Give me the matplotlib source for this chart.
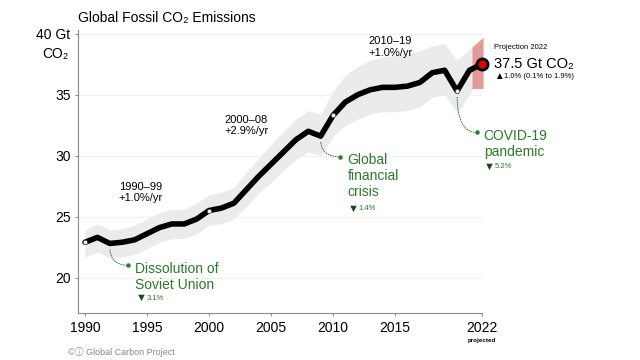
import numpy as np
import matplotlib
matplotlib.use("Agg")
import matplotlib.pyplot as plt

plt.rcParams['font.family'] = ['Liberation Sans', 'DejaVu Sans', 'Noto Sans CJK SC']

# Global fossil CO2 emissions (Gt CO2)
years = list(range(1990, 2023))
emissions = [22.9, 23.3, 22.8, 22.9, 23.1, 23.6, 24.1, 24.4, 24.4, 24.8,
             25.5, 25.7, 26.1, 27.2, 28.3, 29.3, 30.3, 31.3, 32.0, 31.6,
             33.3, 34.4, 35.0, 35.4, 35.6, 35.6, 35.7, 36.0, 36.8, 37.0,
             35.3, 37.0, 37.5]

# uncertainty band (grey), 1990-2021
band_years = list(range(1990, 2022))
band_upper = [23.9, 24.4, 23.9, 24.0, 24.3, 24.8, 25.3, 25.6, 25.6, 26.1,
              26.8, 27.0, 27.4, 28.6, 29.8, 30.9, 32.0, 33.0, 33.7, 33.4,
              35.3, 36.6, 37.3, 37.8, 38.1, 38.2, 38.3, 38.6, 39.0, 39.2,
              37.8, 38.9]
band_lower = [21.7, 22.1, 21.6, 21.7, 21.9, 22.4, 22.9, 23.2, 23.2, 23.6,
              24.3, 24.4, 24.8, 25.8, 26.9, 27.8, 28.8, 29.7, 30.3, 30.0,
              31.6, 32.5, 33.0, 33.4, 33.6, 33.6, 33.7, 34.0, 34.8, 35.0,
              33.5, 35.3]

# projection range (red)
proj_years = [2021.2, 2022.1]
proj_upper = [38.9, 39.7]
proj_lower = [35.5, 35.5]

decade_years = [1990, 2000, 2010, 2020]

xticks = [1990, 1995, 2000, 2005, 2010, 2015, 2022]
yticks = [20, 25, 30, 35, 40]
ytick_labels = ['20', '25', '30', '35', '40 Gt']

green = '#2a7a2a'

fig = plt.figure(figsize=(6.4, 3.6), dpi=100)
ax = fig.add_axes([0.1222, 0.1306, 0.6307, 0.786])

ax.fill_between(band_years[:-1] + [2021.2], band_lower, band_upper,
                color='#ebebeb', lw=0, zorder=1)
ax.fill_between(proj_years, proj_lower, proj_upper, color='#e49a9a',
                lw=0, zorder=2, clip_on=False)
ax.plot(years, emissions, color='black', lw=4, solid_capstyle='round',
        solid_joinstyle='round', zorder=3)
dec_vals = [emissions[years.index(y)] for y in decade_years]
ax.plot(decade_years, dec_vals, 'o', ms=3, mfc='white', mec='#555555',
        mew=0.6, zorder=4)
ax.plot([2022], [emissions[-1]], 'o', ms=8, mfc='#e00000', mec='black',
        mew=2, zorder=5, clip_on=False)

ax.set_xlim(1989.45, 2022)
ax.set_ylim(17.1, 40.3)
ax.set_xticks(xticks)
ax.set_xticklabels([str(x) for x in xticks], fontsize=10)
ax.set_yticks(yticks)
ax.set_yticklabels(ytick_labels, fontsize=10)
ax.tick_params(axis='both', length=2.5, width=0.6, color='#777777', pad=3)
for y in yticks:
    ax.axhline(y, color='#f0f0f0', lw=0.8, zorder=0)
for s in ['top', 'right']:
    ax.spines[s].set_visible(False)
for s in ['left', 'bottom']:
    ax.spines[s].set_color('#888888')
    ax.spines[s].set_linewidth(0.8)

ax.text(-0.025, 0.917, 'CO\u2082', transform=ax.transAxes, ha='right',
        va='center', fontsize=10)
fig.text(0.122, 0.95, 'Global Fossil CO\u2082 Emissions', ha='left',
         va='center', fontsize=10)
ax.text(2022, 14.85, 'projected', ha='center', va='center', fontsize=4.5,
        fontweight='bold', clip_on=False)
fig.text(0.106, 0.022, '\u00a9\u24d8 Global Carbon Project', ha='left',
         va='center', fontsize=6.5, color='#888888')

# growth rate labels
ax.text(1994.5, 27.0, '1990\u201399\n+1.0%/yr', ha='center', va='center',
        fontsize=8, linespacing=1.15)
ax.text(2003.0, 32.5, '2000\u201308\n+2.9%/yr', ha='center', va='center',
        fontsize=8, linespacing=1.15)
ax.text(2014.6, 38.9, '2010\u201319\n+1.0%/yr', ha='center', va='center',
        fontsize=8, linespacing=1.15)

# event annotations
events = [
    ('Dissolution of\nSoviet Union', '3.1%', 1992, 1993.5, 21.0, 18.3),
    ('Global\nfinancial\ncrisis', '1.4%', 2009, 2010.6, 29.9, 25.65),
    ('COVID-19\npandemic', '5.2%', 2020, 2021.6, 31.9, 29.1),
]
for label, change, yr, bx, by, cy in events:
    ev = emissions[years.index(yr)]
    ax.annotate('', xy=(bx, by), xytext=(yr, ev - 0.3),
                arrowprops=dict(arrowstyle='-', color=green, lw=0.7,
                                ls=(0, (1, 1.5)),
                                connectionstyle='angle3,angleA=-90,angleB=0'),
                annotation_clip=False)
    ax.plot([bx], [by], 'o', ms=2.2, color=green, clip_on=False)
    ax.text(bx + 0.55, by + 0.32, label, ha='left', va='top', fontsize=10,
            color=green, linespacing=1.2, clip_on=False)
    ax.text(bx + 0.55, cy, '\u25bc', ha='left', va='center', fontsize=8,
            color='#1a4a1a', clip_on=False)
    ax.text(bx + 1.45, cy, change, ha='left', va='center', fontsize=5.5,
            color=green, clip_on=False)

# projection labels
ax.text(2023.0, 38.9, 'Projection 2022', ha='left', va='center',
        fontsize=5.5, clip_on=False)
ax.text(2023.0, 37.5, '37.5 Gt CO\u2082', ha='left', va='center',
        fontsize=10.5, clip_on=False)
ax.text(2023.0, 36.5, '\u25b2', ha='left', va='center', fontsize=7,
        clip_on=False)
ax.text(2023.8, 36.5, '1.0% (0.1% to 1.9%)', ha='left', va='center',
        fontsize=5.5, clip_on=False)

fig.savefig('out.png', dpi=100)
